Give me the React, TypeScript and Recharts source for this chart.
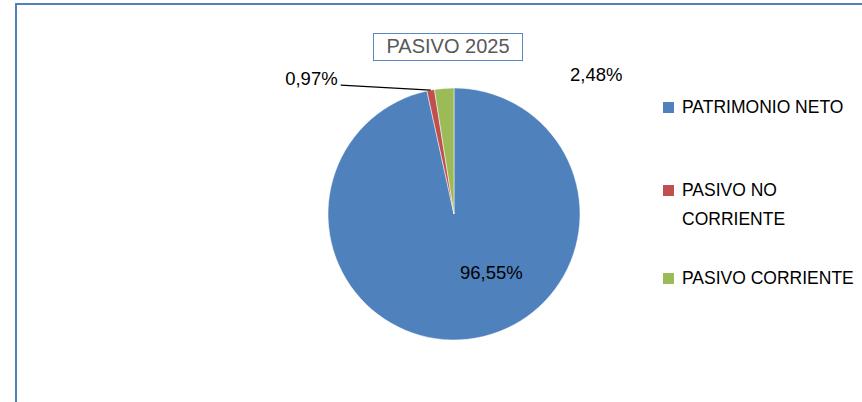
import React from 'react'
import { PieChart, Pie, Cell, Legend } from 'recharts'

const categories = ['PATRIMONIO NETO', 'PASIVO NO CORRIENTE', 'PASIVO CORRIENTE']
const values = [96.55, 0.97, 2.48]
const colors = ['#4F81BD', '#C0504D', '#9BBB59']
const title = 'PASIVO 2025'

const data = categories.map((name, i) => ({ name, value: values[i] }))

const RAD = Math.PI / 180
const FONT = '"Liberation Sans", Arial, sans-serif'

const fmt = (v: number) => v.toFixed(2).replace('.', ',') + '%'

// label placement per slice: radius factor + nudge, like the moved labels in the original
const labelLayout = [
  { r: 0.47, dx: 31, dy: 0, anchor: 'middle', leader: false },
  { r: 1, dx: -93, dy: -12, anchor: 'end', leader: true },
  { r: 1, dx: 152, dy: -14, anchor: 'middle', leader: false },
]

const renderLabel = (props: any) => {
  const { cx, cy, midAngle, outerRadius, index } = props
  const l = labelLayout[index]
  const px = cx + outerRadius * l.r * Math.cos(-midAngle * RAD)
  const py = cy + outerRadius * l.r * Math.sin(-midAngle * RAD)
  return (
    <g key={'lbl' + index}>
      {l.leader && (
        <polyline
          points={`${px},${py} ${px + l.dx + 3},${py - 5}`}
          fill="none"
          stroke="#000"
          strokeWidth={1.3}
        />
      )}
      <text
        x={px + l.dx}
        y={py + l.dy}
        textAnchor={l.anchor}
        dominantBaseline="central"
        fill="#000"
        fontSize={18.5}
        fontFamily={FONT}
      >
        {fmt(values[index])}
      </text>
    </g>
  )
}

const legendGaps = [0, 54, 30]

const LegendContent = () => (
  <div style={{ fontFamily: FONT, fontSize: 17.5, color: '#000' }}>
    {categories.map((name, i) => (
      <div
        key={name}
        style={{ display: 'flex', alignItems: 'flex-start', marginTop: legendGaps[i], lineHeight: '29px' }}
      >
        <span
          style={{
            width: 11,
            height: 11,
            background: colors[i],
            marginTop: 9,
            marginRight: 8,
            flex: '0 0 auto',
          }}
        />
        <span style={{ width: 180 }}>{name}</span>
      </div>
    ))}
  </div>
)

export default function App() {
  return (
    <div
      style={{
        position: 'absolute',
        left: 0,
        top: 0,
        width: 862,
        height: 402,
        overflow: 'hidden',
        background: '#fff',
      }}
    >
      <div
        style={{
          position: 'absolute',
          left: 15,
          top: 3,
          width: 900,
          height: 500,
          borderLeft: '2.5px solid #4F81BD',
          borderTop: '2.5px solid #4F81BD',
        }}
      />
      <div
        style={{
          position: 'absolute',
          left: 373,
          top: 33,
          width: 148,
          height: 26,
          border: '1px solid #5B87C5',
          fontFamily: FONT,
          fontSize: 20,
          color: '#595959',
          textAlign: 'center',
          lineHeight: '24px',
          boxSizing: 'content-box',
        }}
      >
        {title}
      </div>
      <PieChart
        width={862}
        height={402}
        margin={{ top: 0, right: 0, bottom: 0, left: 0 }}
        style={{ position: 'absolute', left: 0, top: 0 }}
      >
        <Pie
          data={data}
          dataKey="value"
          nameKey="name"
          cx={454}
          cy={214}
          outerRadius={126}
          startAngle={90}
          endAngle={-270}
          stroke="#fff"
          strokeWidth={0.5}
          label={renderLabel}
          labelLine={false}
          isAnimationActive={false}
        >
          {data.map((d, i) => (
            <Cell key={d.name} fill={colors[i]} />
          ))}
        </Pie>
        <Legend
          layout="vertical"
          verticalAlign="top"
          align="right"
          content={<LegendContent />}
          wrapperStyle={{ left: 663, top: 93, width: 200 }}
        />
      </PieChart>
    </div>
  )
}
